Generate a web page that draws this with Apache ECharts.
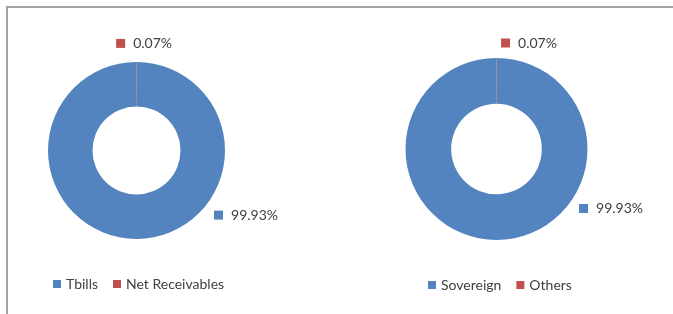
<!DOCTYPE html>
<html>
<head>
<meta charset="utf-8">
<script src="https://cdn.jsdelivr.net/npm/echarts@6/dist/echarts.min.js"></script>
<style>
  html, body { margin: 0; padding: 0; background: #fff; }
  #frame {
    position: absolute; left: 6px; top: 6px; width: 667px; height: 308px;
    border-top: 2px solid #a3a3a3; border-left: 2px solid #a3a3a3;
  }
  #main { position: absolute; left: 0; top: 0; width: 673px; height: 314px; }
</style>
</head>
<body>
<div id="frame"></div>
<div id="main"></div>
<script>
  // holdings of the fund, left and right donut
  var holdingNames = ['Tbills', 'Net Receivables'];
  var holdingValues = [99.93, 0.07];
  var ratingNames = ['Sovereign', 'Others'];
  var ratingValues = [99.93, 0.07];

  var palette = ['#5384BF', '#C0504D'];
  var font = 'Lato';

  // where Excel put each data label, relative to the donut centre (in radii)
  var labelSpotsLeft = [[0.876, 0.73], [-0.23, -1.21]];
  var labelSpotsRight = [[0.907, 0.654], [0.05, -1.165]];

  function buildData(names, values) {
    return names.map(function (n, i) {
      return {name: n, value: values[i], itemStyle: {color: palette[i]}};
    });
  }

  function donut(names, values, center, radius, spots) {
    return {
      type: 'pie',
      center: center,
      radius: radius,
      startAngle: 90,
      clockwise: true,
      avoidLabelOverlap: false,
      emphasis: {disabled: true},
      itemStyle: {borderWidth: 0},
      label: {
        show: true,
        position: 'outside',
        formatter: function (p) {
          return '{sq' + p.dataIndex + '|}{v|' + p.value.toFixed(2) + '%}';
        },
        rich: {
          sq0: {width: 9, height: 9, backgroundColor: palette[0]},
          sq1: {width: 9, height: 9, backgroundColor: palette[1]},
          v: {fontSize: 14, fontFamily: font, color: '#404040', padding: [0, 0, 0, 8]}
        }
      },
      labelLine: {show: false},
      labelLayout: function (p) {
        var s = spots[p.dataIndex];
        return {
          x: center[0] + s[0] * radius[1],
          y: center[1] + s[1] * radius[1],
          align: 'left',
          verticalAlign: 'middle'
        };
      },
      data: buildData(names, values)
    };
  }

  var chart = echarts.init(document.getElementById('main'));
  var legendCommon = {
    orient: 'horizontal',
    icon: 'rect',
    itemWidth: 8,
    itemHeight: 8,
    itemGap: 15,
    padding: 0,
    selectedMode: false,
    textStyle: {fontSize: 14, fontFamily: font, color: '#404040'}
  };
  var option = {
    animation: false,
    legend: [
      Object.assign({left: 53, top: 277, data: holdingNames}, legendCommon),
      Object.assign({left: 428, top: 278, data: ratingNames}, legendCommon)
    ],
    series: [
      donut(holdingNames, holdingValues, [136.5, 150.5], [44, 88.5], labelSpotsLeft),
      donut(ratingNames, ratingValues, [496.5, 149], [45.3, 91], labelSpotsRight)
    ]
  };
  chart.setOption(option);
</script>
</body>
</html>
